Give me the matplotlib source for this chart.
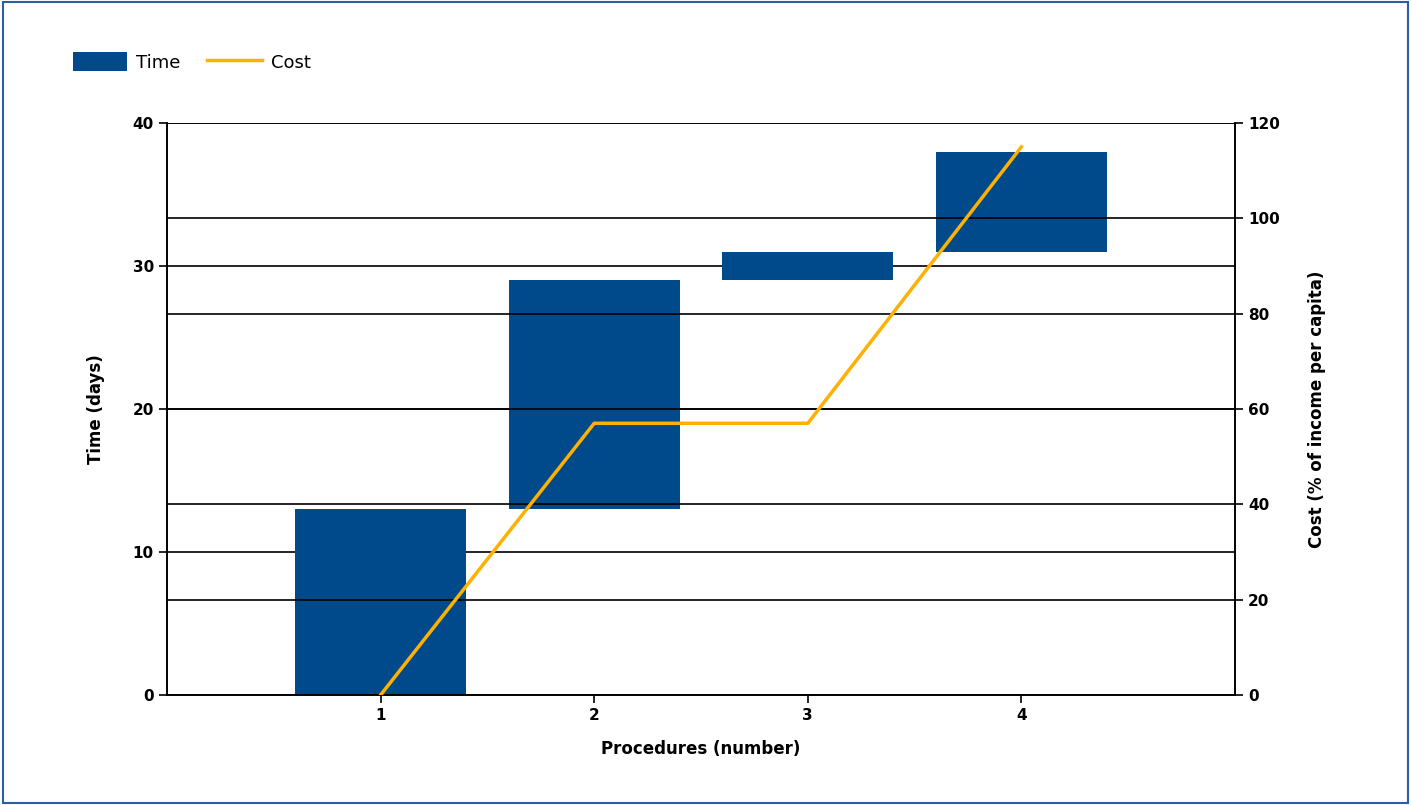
import matplotlib.pyplot as plt
from matplotlib.patches import Rectangle

procedures = [1, 2, 3, 4]
time_start = [0, 13, 29, 31]
time_end = [13, 29, 31, 38]
cost = [0, 57, 57, 115]

blue = '#004a8b'
orange = '#ffb000'

fig = plt.figure(figsize=(14.11, 8.05), dpi=100)
fig.patches.append(Rectangle((0.002, 0.002), 0.996, 0.996, transform=fig.transFigure,
                             fill=False, edgecolor='#2a5fa8', linewidth=1.5))
ax = fig.add_axes([167 / 1411, 110 / 805, (1235 - 167) / 1411, (695 - 123) / 805])
ax2 = ax.twinx()

heights = [e - s for s, e in zip(time_start, time_end)]
ax.bar(procedures, heights, bottom=time_start, width=0.8, color=blue, label='Time', zorder=3)
ax2.plot(procedures, cost, color=orange, linewidth=2.5, label='Cost', zorder=3)

ax.set_xlim(0, 5)
ax.set_ylim(0, 40)
ax2.set_ylim(0, 120)
ax.set_xticks(procedures)
ax.set_yticks([0, 10, 20, 30, 40])
ax2.set_yticks([0, 20, 40, 60, 80, 100, 120])
ax.grid(axis='y', color='black', linewidth=1.2, zorder=0)
ax2.grid(axis='y', color='black', linewidth=1.2, zorder=0)
ax.set_axisbelow(True)
ax2.set_axisbelow(True)

for a in (ax, ax2):
    a.spines['top'].set_visible(False)
    a.tick_params(labelsize=11, width=1.2, length=6)
    for lab in a.get_xticklabels() + a.get_yticklabels():
        lab.set_fontweight('bold')
    for s in a.spines.values():
        s.set_linewidth(1.2)

ax.set_xlabel('Procedures (number)', fontsize=12, fontweight='bold', labelpad=12)
ax.set_ylabel('Time (days)', fontsize=12, fontweight='bold', labelpad=20)
ax2.set_ylabel('Cost (% of income per capita)', fontsize=12, fontweight='bold', labelpad=20)

h1, l1 = ax.get_legend_handles_labels()
h2, l2 = ax2.get_legend_handles_labels()
fig.legend(h1 + h2, l1 + l2, loc='upper left', bbox_to_anchor=(0.04, 0.955), ncol=2,
           frameon=False, fontsize=13, handlelength=3, handleheight=1.2,
           handletextpad=0.5, columnspacing=1.5)

fig.savefig('out.png', dpi=100)
